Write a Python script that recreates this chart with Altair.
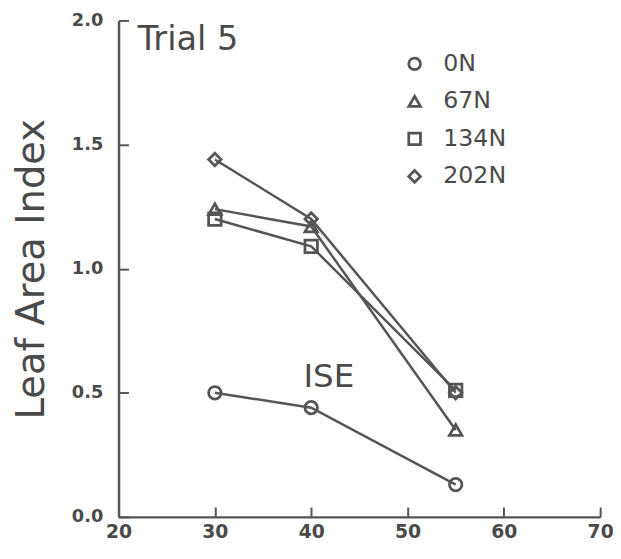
import altair as alt
import pandas as pd

# ---- data ----
days = [30, 40, 55]
series_names = ["0N", "67N", "134N", "202N"]
lai_0N = [0.50, 0.44, 0.13]
lai_67N = [1.24, 1.17, 0.35]
lai_134N = [1.20, 1.09, 0.51]
lai_202N = [1.44, 1.20, 0.50]
shapes = ["circle", "triangle-up", "square", "diamond"]

x_ticks = [20, 30, 40, 50, 60, 70]
y_ticks = [0.0, 0.5, 1.0, 1.5, 2.0]

notes_text = ["Trial 5", "ISE"]
notes_x = [22.0, 39.2]
notes_y = [1.92, 0.565]
notes_size = [34, 33]

INK = "#555555"
TXT = "#4a4a4a"

rows = []
for name, vals in zip(series_names, [lai_0N, lai_67N, lai_134N, lai_202N]):
    for d, v in zip(days, vals):
        rows.append({"day": d, "lai": v, "N": name})
df = pd.DataFrame(rows)
notes = pd.DataFrame({"t": notes_text, "x": notes_x, "y": notes_y, "s": notes_size})

xs = alt.Scale(domain=[20, 70], nice=False, zero=False)
ys = alt.Scale(domain=[0, 2], nice=False, zero=True)

main_x = alt.Axis(values=x_ticks, format="d", ticks=False, tickSize=0, grid=False,
                  domainColor=INK, domainWidth=2.5, labelFont="DejaVu Sans",
                  labelFontWeight="bold", labelFontSize=19, labelColor=TXT,
                  labelPadding=6, title=None, labelFlush=False)
main_y = alt.Axis(values=y_ticks, format=".1f", ticks=False, tickSize=0, grid=False,
                  domainColor=INK, domainWidth=2.5, labelFont="DejaVu Sans",
                  labelFontWeight="bold", labelFontSize=18, labelColor=TXT,
                  labelPadding=16, title="Leaf Area Index", titleFont="DejaVu Sans",
                  titleFontSize=39, titleFontWeight="normal", titleColor=TXT,
                  titlePadding=20)

tick_x = alt.Axis(orient="top", offset=-503, values=x_ticks, labels=False, domain=False,
                  grid=False, ticks=True, tickSize=10, tickWidth=2, tickColor=INK, title=None)
tick_y = alt.Axis(orient="right", offset=-488, values=y_ticks, labels=False, domain=False,
                  grid=False, ticks=True, tickSize=10, tickWidth=2, tickColor=INK, title=None)

base = alt.Chart(df)

lines = base.mark_line(color=INK, strokeWidth=2.5).encode(
    x=alt.X("day:Q", scale=xs, axis=main_x),
    y=alt.Y("lai:Q", scale=ys, axis=main_y),
    detail="N:N",
)

points = base.mark_point(filled=False, color=INK, strokeWidth=2.8, size=160,
                         opacity=1).encode(
    x=alt.X("day:Q", scale=xs, axis=None),
    y=alt.Y("lai:Q", scale=ys, axis=None),
    shape=alt.Shape("N:N", scale=alt.Scale(domain=series_names, range=shapes),
                    legend=alt.Legend(orient="none", legendX=288, legendY=32, title=None,
                                      labelFont="DejaVu Sans", labelFontSize=24,
                                      labelColor=TXT, symbolSize=140, symbolOpacity=1,
                                      symbolStrokeColor=INK, symbolStrokeWidth=2.8,
                                      rowPadding=14, labelOffset=17, padding=0)),
)

texts = alt.Chart(notes).mark_text(font="DejaVu Sans", color=TXT, align="left",
                                   baseline="middle").encode(
    x=alt.X("x:Q", scale=xs, axis=None),
    y=alt.Y("y:Q", scale=ys, axis=None),
    text="t:N",
    size=alt.Size("s:Q", scale=None, legend=None),
)

ticks = base.mark_rule(strokeOpacity=0).encode(
    x=alt.X("day:Q", scale=xs, axis=tick_x),
    y=alt.Y("lai:Q", scale=ys, axis=tick_y),
)

chart = alt.layer(lines, points, texts, ticks).resolve_axis(
    x="independent", y="independent"
).properties(
    width=488, height=503,
    autosize=alt.AutoSizeParams(type="none"),
    padding={"left": 112, "top": 9, "right": 13, "bottom": 35},
    background="white",
).configure_view(stroke=None)

chart.save("out.html", embed_options={"renderer": "svg", "actions": False})
